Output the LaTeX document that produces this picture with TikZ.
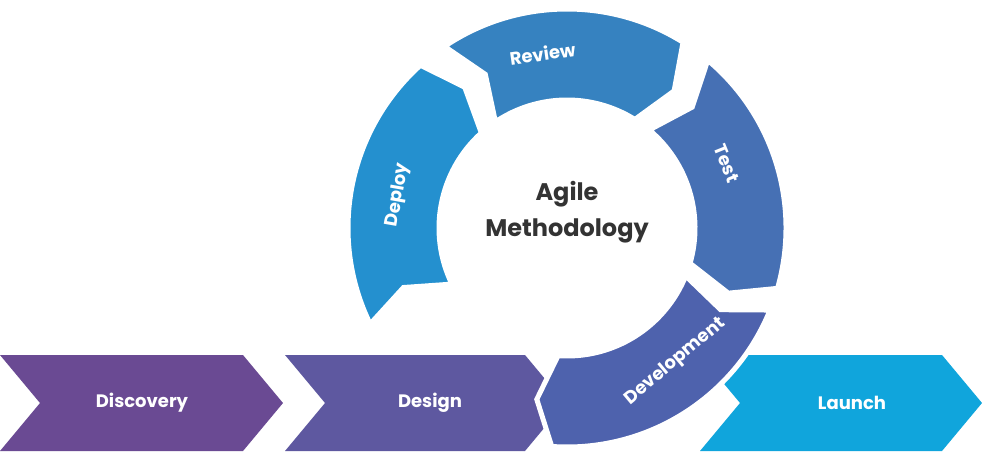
\documentclass[tikz,border=0pt]{standalone}
\usepackage{fontspec}
\setmainfont{Poppins}
\definecolor{cDiscovery}{HTML}{6A4A93}
\definecolor{cDesign}{HTML}{5E58A0}
\definecolor{cDevelop}{HTML}{4E62AD}
\definecolor{cTest}{HTML}{4670B4}
\definecolor{cReview}{HTML}{3682C0}
\definecolor{cDeploy}{HTML}{2490CF}
\definecolor{cLaunch}{HTML}{10A5DC}
\definecolor{cText}{HTML}{333333}
\tikzset{
  steplabel/.style={text=white, font=\bfseries\fontsize{18}{20}\selectfont},
}
% band of the cycle: start angle, end angle, colour
\newcommand{\cycleseg}[3]{%
  \fill[#3, draw=white, line width=5pt] (#1:219) -- (#1-6:174) -- (#1:128)
    arc[start angle=#1, end angle=#2, radius=128] -- (#2-6:174) -- (#2:219)
    arc[start angle=#2, end angle=#1, radius=219] -- cycle;}
% chevron at the bottom: left x, right tip x, colour
\newcommand{\bottomchev}[3]{%
  \fill[#3] (#1,96) -- (#2-40,96) -- (#2,48) -- (#2-40,0) -- (#1,0) -- (#1+40,48) -- cycle;}
\begin{document}
\begin{tikzpicture}[x=1pt,y=1pt]
\useasboundingbox (0,0) rectangle (982,451);
\bottomchev{0}{283}{cDiscovery}
\bottomchev{285}{565}{cDesign}
\bottomchev{700}{982}{cLaunch}
\node[steplabel] (discovery) at (142,48) {Discovery};
\node[steplabel] (design) at (430,48) {Design};
\node[steplabel] (launch) at (852,48) {Launch};
\begin{scope}[shift={(567,223)}]
\cycleseg{206}{132}{cDeploy}
\cycleseg{124}{58}{cReview}
\cycleseg{50}{-16}{cTest}
\cycleseg{-22}{-94}{cDevelop}
\node[steplabel, rotate=80] (deploy) at (169:172) {Deploy};
\node[steplabel, rotate=8] (review) at (98:176) {Review};
\node[steplabel, rotate=-68] (test) at (22:172) {Test};
\node[steplabel, rotate=40] (development) at (-51:172) {Development};
\node[text=cText, font=\bfseries\fontsize{24}{36}\selectfont, align=center]
  (agile) at (0,16) {Agile\\Methodology};
\end{scope}
\end{tikzpicture}
\end{document}
